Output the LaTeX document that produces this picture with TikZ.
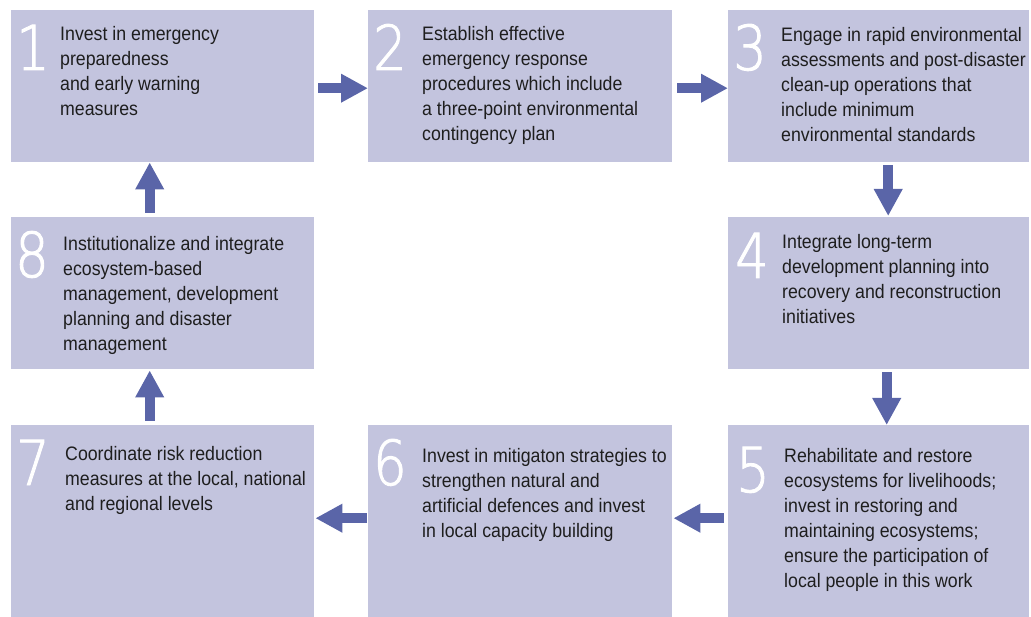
\documentclass[tikz,border=0pt]{standalone}
\usepackage{fontspec}
\setmainfont[FakeStretch=0.91]{Liberation Sans}
\newfontfamily\numfont[FakeStretch=0.85,FakeBold=1.5]{DejaVu Sans ExtraLight}
\usetikzlibrary{arrows.meta}
\definecolor{boxfill}{HTML}{C3C4DE}
\definecolor{arrowc}{HTML}{5A65A8}
\definecolor{txtc}{HTML}{1E1E1E}
\tikzset{
  stepbox/.style={fill=boxfill, draw=none, anchor=north west, inner sep=0pt, minimum height=152pt},
  txt/.style={anchor=base west, inner sep=0pt, align=left, text=txtc, font=\fontsize{19.5}{25}\selectfont},
  num/.style={anchor=base west, inner sep=0pt, text=white, font=\numfont\fontsize{62}{62}\selectfont},
  flow/.style={draw=arrowc, line width=10pt, -{Triangle[width=27pt,length=27pt]}}
}
\begin{document}
\begin{tikzpicture}[x=1pt,y=-1pt]
\useasboundingbox (0,0) rectangle (1031,617);
% boxes
\node[stepbox, minimum width=303pt] (b1) at (11,10) {};
\node[stepbox, minimum width=304pt] (b2) at (368,10) {};
\node[stepbox, minimum width=301pt] (b3) at (728,10) {};
\node[stepbox, minimum width=303pt] (b8) at (11,217) {};
\node[stepbox, minimum width=301pt] (b4) at (728,217) {};
\node[stepbox, minimum width=303pt, minimum height=192pt] (b7) at (11,425) {};
\node[stepbox, minimum width=304pt, minimum height=192pt] (b6) at (368,425) {};
\node[stepbox, minimum width=301pt, minimum height=192pt] (b5) at (728,425) {};
% numbers
\node[num] (n1) at (16,70) {1};
\node[num] (n2) at (373,70) {2};
\node[num] (n3) at (733,70) {3};
\node[num] (n8) at (15,277) {8};
\node[num] (n4) at (735,278) {4};
\node[num] (n7) at (16,485) {7};
\node[num] (n6) at (373,485) {6};
\node[num] (n5) at (736,492) {5};
% texts (anchored at the baseline of the last line)
\node[txt] (t1) at (60,116) {Invest in emergency\\preparedness\\and early warning\\measures};
\node[txt] (t2) at (422,141) {Establish effective\\emergency response\\procedures which include\\a three-point environmental\\contingency plan};
\node[txt] (t3) at (781,142) {Engage in rapid environmental\\assessments and post-disaster\\clean-up operations that\\include minimum\\environmental standards};
\node[txt] (t8) at (63,351) {Institutionalize and integrate\\ecosystem-based\\management, development\\planning and disaster\\management};
\node[txt] (t4) at (782,324) {Integrate long-term\\development planning into\\recovery and reconstruction\\initiatives};
\node[txt] (t7) at (65,510) {Coordinate risk reduction\\measures at the local, national\\and regional levels};
\node[txt] (t6) at (422,537) {Invest in mitigaton strategies to\\strengthen natural and\\artificial defences and invest\\in local capacity building};
\node[txt] (t5) at (784,587) {Rehabilitate and restore\\ecosystems for livelihoods;\\invest in restoring and\\maintaining ecosystems;\\ensure the participation of\\local people in this work};
% arrows
\draw[flow] ([xshift=4pt,yshift=-2pt]b1.east) -- ([yshift=-2pt]b2.west);
\draw[flow] ([xshift=5pt,yshift=-2pt]b2.east) -- ([yshift=-2pt]b3.west);
\draw[flow] ([xshift=9.5pt,yshift=-3pt]b3.south) -- ([xshift=9.5pt,yshift=1pt]b4.north);
\draw[flow] ([xshift=8pt,yshift=-3pt]b4.south) -- ([xshift=8pt]b5.north);
\draw[flow] ([xshift=-4pt,yshift=3pt]b5.west) -- ([xshift=1pt,yshift=3pt]b6.east);
\draw[flow] ([xshift=-1pt,yshift=3pt]b6.west) -- ([xshift=1pt,yshift=3pt]b7.east);
\draw[flow] ([xshift=-13pt,yshift=4pt]b7.north) -- ([xshift=-13pt,yshift=-1pt]b8.south);
\draw[flow] ([xshift=-13pt,yshift=4pt]b8.north) -- ([xshift=-13pt]b1.south);
\end{tikzpicture}
\end{document}
